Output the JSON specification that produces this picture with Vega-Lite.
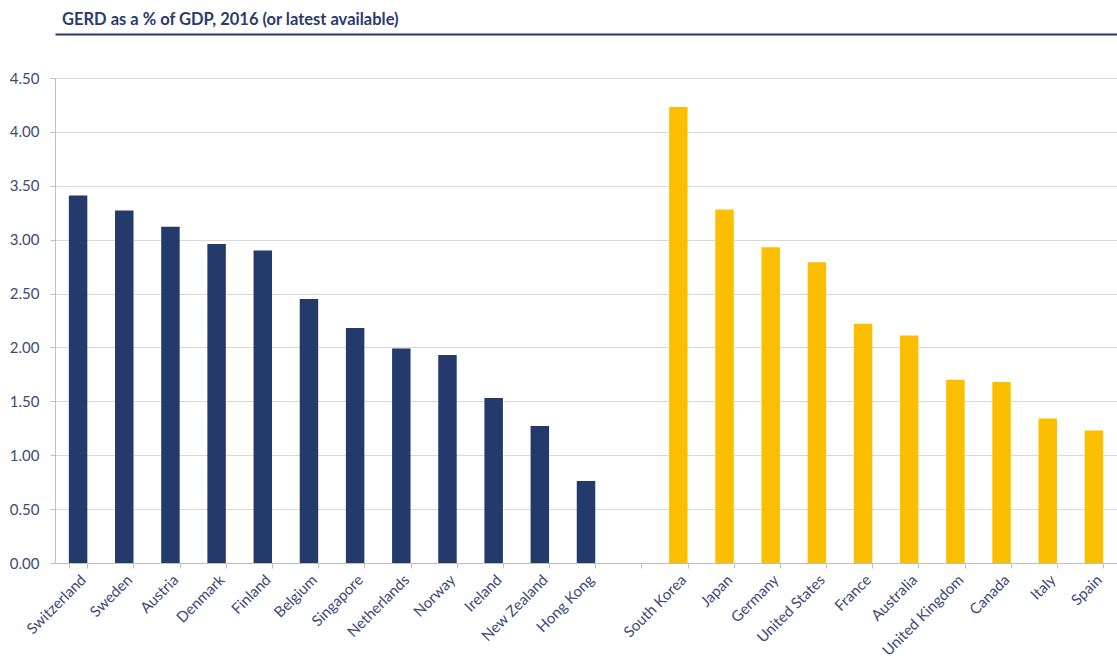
{
  "$schema": "https://vega.github.io/schema/vega-lite/v6.json",
  "autosize": {"type": "none"},
  "width": 1062,
  "height": 485,
  "padding": {"left": 55, "top": 78, "right": 0, "bottom": 99},
  "background": "white",
  "title": {
    "text": "GERD as a % of GDP, 2016 (or latest available)",
    "anchor": "start",
    "frame": "group",
    "dx": 7,
    "offset": 6,
    "font": "Lato",
    "fontSize": 16.5,
    "fontWeight": "bold",
    "color": "#2b3b6b"
  },
  "data": {
    "values": [
      {"country": "Switzerland", "value": 3.41, "group": "A"},
      {"country": "Sweden", "value": 3.27, "group": "A"},
      {"country": "Austria", "value": 3.12, "group": "A"},
      {"country": "Denmark", "value": 2.96, "group": "A"},
      {"country": "Finland", "value": 2.90, "group": "A"},
      {"country": "Belgium", "value": 2.45, "group": "A"},
      {"country": "Singapore", "value": 2.18, "group": "A"},
      {"country": "Netherlands", "value": 1.99, "group": "A"},
      {"country": "Norway", "value": 1.93, "group": "A"},
      {"country": "Ireland", "value": 1.53, "group": "A"},
      {"country": "New Zealand", "value": 1.27, "group": "A"},
      {"country": "Hong Kong", "value": 0.76, "group": "A"},
      {"country": "South Korea", "value": 4.23, "group": "B"},
      {"country": "Japan", "value": 3.28, "group": "B"},
      {"country": "Germany", "value": 2.93, "group": "B"},
      {"country": "United States", "value": 2.79, "group": "B"},
      {"country": "France", "value": 2.22, "group": "B"},
      {"country": "Australia", "value": 2.11, "group": "B"},
      {"country": "United Kingdom", "value": 1.70, "group": "B"},
      {"country": "Canada", "value": 1.68, "group": "B"},
      {"country": "Italy", "value": 1.34, "group": "B"},
      {"country": "Spain", "value": 1.23, "group": "B"}
    ]
  },
  "config": {
    "view": {"stroke": null},
    "font": "Lato"
  },
  "layer": [
    {
      "mark": {"type": "bar"},
      "encoding": {
        "x": {
          "field": "country",
          "type": "nominal",
          "sort": null,
          "scale": {
            "domain": ["Switzerland", "Sweden", "Austria", "Denmark", "Finland", "Belgium", "Singapore", "Netherlands", "Norway", "Ireland", "New Zealand", "Hong Kong", " ", "South Korea", "Japan", "Germany", "United States", "France", "Australia", "United Kingdom", "Canada", "Italy", "Spain"],
            "paddingInner": 0.6,
            "paddingOuter": 0.3
          },
          "axis": {
            "title": null,
            "labelAngle": -45,
            "labelFontSize": 15,
            "labelColor": "#3b4a7a",
            "labelPadding": 4,
            "domainColor": "#bfbfbf",
            "tickColor": "#bfbfbf",
            "tickSize": 5,
            "tickBand": "extent",
            "grid": false
          }
        },
        "y": {
          "field": "value",
          "type": "quantitative",
          "scale": {"domain": [0, 4.5]},
          "axis": {
            "title": null,
            "values": [0, 0.5, 1, 1.5, 2, 2.5, 3, 3.5, 4, 4.5],
            "format": ".2f",
            "labelFontSize": 15,
            "labelColor": "#3b4a7a",
            "labelPadding": 11,
            "domainColor": "#bfbfbf",
            "tickColor": "#bfbfbf",
            "tickSize": 5,
            "gridColor": "#d9d9d9",
            "gridWidth": 1
          }
        },
        "color": {
          "field": "group",
          "type": "nominal",
          "scale": {"domain": ["A", "B"], "range": ["#243a6a", "#fcbf00"]},
          "legend": null
        }
      }
    },
    {
      "mark": {"type": "bar", "opacity": 0},
      "encoding": {
        "x": {
          "field": "country",
          "type": "nominal",
          "sort": null,
          "axis": {
            "orient": "top",
            "offset": 44,
            "title": null,
            "labels": false,
            "ticks": false,
            "grid": false,
            "domainColor": "#2b3b6b",
            "domainWidth": 2
          }
        },
        "y": {"field": "value", "type": "quantitative"}
      }
    }
  ],
  "resolve": {"axis": {"x": "independent"}}
}
